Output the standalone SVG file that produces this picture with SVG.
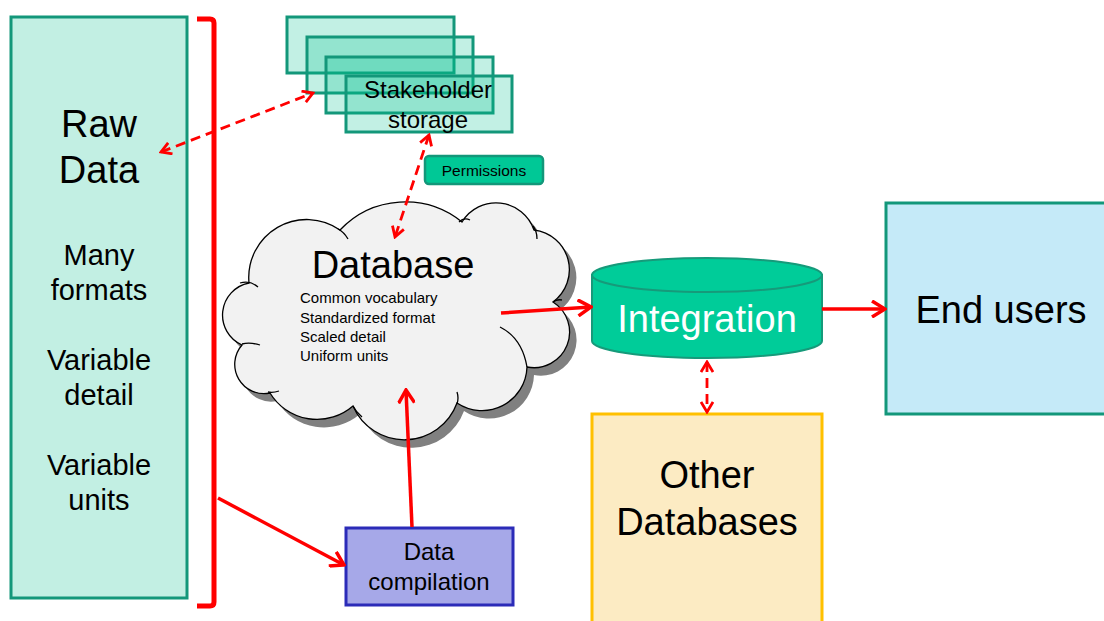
<svg xmlns="http://www.w3.org/2000/svg" width="1104" height="621" viewBox="0 0 1104 621">
  <style>
    text { font-family: "Liberation Sans", Arial, sans-serif; fill: #000; }
    .big { font-size: 38px; text-anchor: middle; }
    .mid { font-size: 29px; text-anchor: middle; }
    .med { font-size: 24px; text-anchor: middle; }
    .small { font-size: 15px; }
    .teal { stroke: #13977a; stroke-width: 3; }
    .stack { fill: #00bf8f; fill-opacity: 0.24; stroke: #13977a; stroke-width: 3; }
    .solid { fill: none; stroke: #ff0000; stroke-width: 3.5; }
    .dashed { fill: none; stroke: #ff0000; stroke-width: 2.8; stroke-dasharray: 10 6; }
  </style>
  <defs>
    <marker id="head" viewBox="0 0 16 18" refX="14" refY="9" markerWidth="16" markerHeight="18" markerUnits="userSpaceOnUse" orient="auto-start-reverse">
      <path d="M1,1 L14,9 L1,17" fill="none" stroke="#ff0000" stroke-width="3.5" stroke-linejoin="miter"/>
    </marker>
    <marker id="headSmall" viewBox="0 0 13 14" refX="11" refY="7" markerWidth="13" markerHeight="14" markerUnits="userSpaceOnUse" orient="auto-start-reverse">
      <path d="M1,1 L11,7 L1,13" fill="none" stroke="#ff0000" stroke-width="2.8"/>
    </marker>
    <path id="cloudShape" d="M249,283 A58,58 0 0 1 340,230 A90,90 0 0 1 462,222 A40,40 0 0 1 534,230 A40,40 0 0 1 553,302 A35.6,35.6 0 0 1 527,367 A45,45 0 0 1 457,403 A56,56 0 0 1 353,406 A55,55 0 0 1 270,393 A29.3,29.3 0 0 1 242,345 A32.7,32.7 0 0 1 249,283 Z"/>
  </defs>

  <!-- Raw data column -->
  <g id="raw-data">
    <rect x="11" y="17" width="176" height="581" fill="#c2efe3" class="teal"/>
    <text class="big" x="99" y="137">Raw</text>
    <text class="big" x="99" y="183">Data</text>
    <text class="mid" x="99" y="265">Many</text>
    <text class="mid" x="99" y="300">formats</text>
    <text class="mid" x="99" y="370">Variable</text>
    <text class="mid" x="99" y="405">detail</text>
    <text class="mid" x="99" y="475">Variable</text>
    <text class="mid" x="99" y="510">units</text>
  </g>

  <!-- Bracket grouping the raw data -->
  <g id="bracket">
    <path d="M197,19 L210,19 Q214,19 214,23 L214,602 Q214,606 210,606 L197,606" fill="none" stroke="#ff0000" stroke-width="5"/>
  </g>

  <!-- Stakeholder storage stack -->
  <g id="stakeholder-storage">
    <rect class="stack" x="287" y="17" width="167" height="56"/>
    <rect class="stack" x="307" y="37" width="166" height="56"/>
    <rect class="stack" x="326" y="57" width="167" height="56"/>
    <rect class="stack" x="346" y="76" width="166" height="56"/>
    <text class="med" x="428" y="98" fill="#1a1a1a">Stakeholder</text>
    <text class="med" x="428" y="128" fill="#1a1a1a">storage</text>
  </g>

  <!-- Permissions tag -->
  <g id="permissions">
    <rect x="425" y="156" width="118" height="28" rx="4" fill="#00c896" stroke="#13977a" stroke-width="2.5"/>
    <text x="484" y="176" font-size="15.5" text-anchor="middle">Permissions</text>
  </g>

  <!-- Database cloud -->
  <g id="database">
    <use href="#cloudShape" transform="translate(7,8)" fill="#808080"/>
    <use href="#cloudShape" fill="#f2f2f2" stroke="#000" stroke-width="1.3"/>
    <g fill="none" stroke="#000" stroke-width="1.3">
      <path d="M240,283 Q250,280 258,287"/>
      <path d="M338,229 Q344,232 348,239"/>
      <path d="M459,222 Q464,217 470,220"/>
      <path d="M533,226 Q537,231 537,239"/>
      <path d="M553,302 Q557,299 562,300"/>
      <path d="M500,327 Q522,338 527,367"/>
      <path d="M457,392 Q459,398 457,404"/>
      <path d="M353,406 Q356,412 362,417"/>
      <path d="M268,392 Q273,393 279,391"/>
      <path d="M242,344 Q250,342 260,345"/>
    </g>
    <text class="big" x="393" y="278">Database</text>
    <text class="small" x="300" y="303">Common vocabulary</text>
    <text class="small" x="300" y="323">Standardized format</text>
    <text class="small" x="300" y="342">Scaled detail</text>
    <text class="small" x="300" y="361">Uniform units</text>
  </g>

  <!-- Integration cylinder -->
  <g id="integration">
    <path d="M592,275 L592,341 A115,17 0 0 0 822,341 L822,275 Z" fill="#00cc99" stroke="#169a7a" stroke-width="2"/>
    <ellipse cx="707" cy="275" rx="115" ry="17" fill="#00cc99" stroke="#169a7a" stroke-width="2"/>
    <text class="big" x="707" y="332" style="fill:#fff">Integration</text>
  </g>

  <!-- End users -->
  <g id="end-users">
    <rect x="886" y="203" width="222" height="211" fill="#c5eaf8" class="teal"/>
    <text class="big" x="1001" y="323">End users</text>
  </g>

  <!-- Other databases -->
  <g id="other-databases">
    <rect x="592" y="414" width="230" height="215" fill="#fcebc3" stroke="#ffc000" stroke-width="3"/>
    <text class="big" x="707" y="488">Other</text>
    <text class="big" x="707" y="535">Databases</text>
  </g>

  <!-- Data compilation -->
  <g id="data-compilation">
    <rect x="346" y="528" width="167" height="77" fill="#a6a8e8" stroke="#2b2bb8" stroke-width="3"/>
    <text class="med" x="429" y="560">Data</text>
    <text class="med" x="429" y="590">compilation</text>
  </g>

  <!-- Connectors -->
  <g id="connectors">
    <path class="solid" d="M218,498 L344,565" marker-end="url(#head)"/>
    <path class="solid" d="M412,527 L406,390" marker-end="url(#head)"/>
    <path class="solid" d="M501,313 L591,307" marker-end="url(#head)"/>
    <path class="solid" d="M822,309 L885,309" marker-end="url(#head)"/>
    <path class="dashed" d="M161,152 L313,93" marker-start="url(#headSmall)" marker-end="url(#headSmall)"/>
    <path class="dashed" d="M429,135 L395,237" marker-start="url(#headSmall)" marker-end="url(#headSmall)"/>
    <path class="dashed" d="M707,362 L707,412" marker-start="url(#headSmall)" marker-end="url(#headSmall)"/>
  </g>
</svg>
